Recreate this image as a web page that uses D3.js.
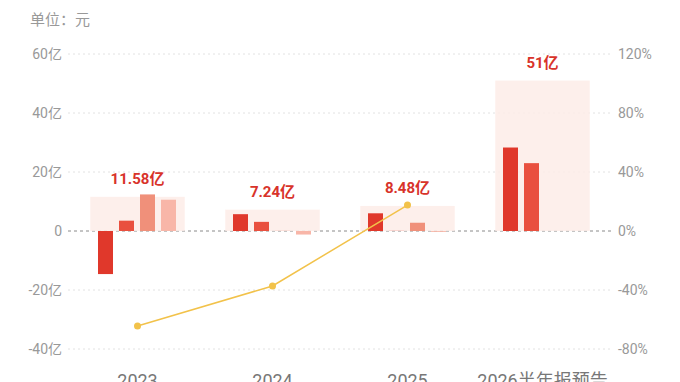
<!DOCTYPE html>
<html lang="zh">
<head>
<meta charset="utf-8">
<title>Profit chart</title>
<script src="https://d3js.org/d3.v7.min.js"></script>
<style>
  body { margin: 0; background: #fff; }
  text { font-family: Roboto, "Noto Sans CJK SC", sans-serif; }
</style>
</head>
<body>
<div id="chart"></div>
<script>
// data
const years = ["2023", "2024", "2025", "2026半年报预告"];
const totals = [11.58, 7.24, 8.48, 51];
const totalLabels = ["11.58亿", "7.24亿", "8.48亿", "51亿"];
const q1 = [-14.6, 5.7, 6.0, 28.3];
const q2 = [3.5, 3.1, 0.05, 23.0];
const q3 = [12.4, 0.05, 2.8, null];
const q4 = [10.6, -1.2, -0.3, null];
const growth = [-64.4, -37.3, 17.6, null];
const leftTicks = [-40, -20, 0, 20, 40, 60];
const rightTicks = [-80, -40, 0, 40, 80, 120];

const width = 680, height = 382;
const svg = d3.select("#chart").append("svg")
  .attr("width", width).attr("height", height);

const x = d3.scaleBand().domain(years).range([70, 610]);
const y = d3.scaleLinear().domain([-40, 60]).range([349, 54]);
const yr = d3.scaleLinear().domain([-80, 120]).range([349, 54]);

svg.append("text").attr("x", 30).attr("y", 25)
  .attr("font-size", 15).attr("fill", "#999").text("单位：元");

// grid
svg.append("g").selectAll("line").data(leftTicks).join("line")
  .attr("x1", 68).attr("x2", 612)
  .attr("y1", d => y(d)).attr("y2", d => y(d))
  .attr("stroke", d => d === 0 ? "#8a8a8a" : "#e2e2e2")
  .attr("stroke-width", 1)
  .attr("stroke-dasharray", d => d === 0 ? "3,3" : "2,3");

// axes
const yAxis = d3.axisLeft(y).tickValues(leftTicks).tickSize(0).tickPadding(0)
  .tickFormat(d => d === 0 ? "0" : d + "亿");
svg.append("g").attr("transform", "translate(62,0)").call(yAxis)
  .call(g => g.select(".domain").remove())
  .selectAll("text").attr("font-size", 14).attr("fill", "#999")
  .style("font-family", "Roboto, 'Noto Sans CJK SC'");

const yrAxis = d3.axisRight(yr).tickValues(rightTicks).tickSize(0).tickPadding(0)
  .tickFormat(d => d + "%");
svg.append("g").attr("transform", "translate(618,0)").call(yrAxis)
  .call(g => g.select(".domain").remove())
  .selectAll("text").attr("font-size", 14).attr("fill", "#999")
  .style("font-family", "Roboto");

const xAxis = d3.axisBottom(x).tickSize(0).tickPadding(0);
svg.append("g").attr("transform", "translate(0,371)").call(xAxis)
  .call(g => g.select(".domain").remove())
  .selectAll("text").attr("font-size", 18).attr("fill", "#777")
  .attr("dy", "0.9em")
  .style("font-family", "Roboto, 'Noto Sans CJK SC'");

// background total rects
const bgW = x.bandwidth() * 0.7;
svg.append("g").selectAll("rect").data(years).join("rect")
  .attr("x", d => x(d) + (x.bandwidth() - bgW) / 2)
  .attr("width", bgW)
  .attr("y", (d, i) => y(totals[i]))
  .attr("height", (d, i) => y(0) - y(totals[i]))
  .attr("fill", "#fdece8").attr("opacity", 0.85);

// quarter bars
const series = [q1, q2, q3, q4];
const colors = ["#e0382b", "#e9503f", "#f0907a", "#f8b6a8"];
const bw = 15, step = 21;
series.forEach((s, k) => {
  svg.append("g").selectAll("rect")
    .data(years.map((yv, i) => ({ yv, v: s[i] })).filter(d => d.v != null))
    .join("rect")
    .attr("x", d => x(d.yv) + x.bandwidth() / 2 - 39.5 + k * step)
    .attr("width", bw)
    .attr("y", d => y(Math.max(0, d.v)))
    .attr("height", d => Math.abs(y(d.v) - y(0)))
    .attr("fill", colors[k]);
});

// total labels
svg.append("g").selectAll("text").data(years).join("text")
  .attr("x", d => x(d) + x.bandwidth() / 2)
  .attr("y", (d, i) => y(totals[i]) - 13)
  .attr("text-anchor", "middle")
  .attr("font-size", 15).attr("font-weight", "bold").attr("fill", "#d8332a")
  .text((d, i) => totalLabels[i]);

// growth line
const pts = years.map((yv, i) => ({ yv, v: growth[i] })).filter(d => d.v != null);
const line = d3.line().x(d => x(d.yv) + x.bandwidth() / 2).y(d => yr(d.v));
svg.append("path").datum(pts).attr("d", line)
  .attr("fill", "none").attr("stroke", "#f2c24a").attr("stroke-width", 1.5);
svg.append("g").selectAll("circle").data(pts).join("circle")
  .attr("cx", d => x(d.yv) + x.bandwidth() / 2)
  .attr("cy", d => yr(d.v))
  .attr("r", 3.5).attr("fill", "#f2c24a");
</script>
</body>
</html>
